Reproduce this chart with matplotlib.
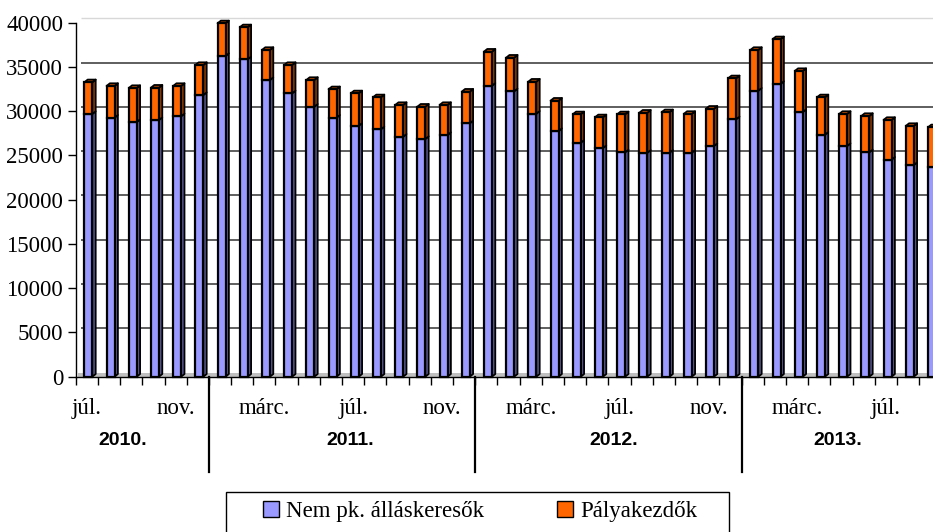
import numpy as np
import matplotlib
matplotlib.use("Agg")
import matplotlib.pyplot as plt
from matplotlib.patches import Patch, Rectangle
from matplotlib.collections import PolyCollection


# ==========================================
# DATA
# ==========================================
MONTH_NAMES = ['jan.', 'febr.', 'márc.', 'ápr.', 'máj.', 'jún.',
               'júl.', 'aug.', 'szept.', 'okt.', 'nov.', 'dec.']
YEARS = ['2010.', '2011.', '2012.', '2013.']
MONTHS_PER_YEAR = [6, 12, 12, 9]   # 2010 starts in July, 2013 ends in September

# Nem pályakezdő álláskeresők (blue) and Pályakezdők (orange), monthly
nem_pk = [29690, 29270, 28780, 29010, 29430, 31830,
          36240, 35870, 33530, 32020, 30510, 29270, 28360, 27960, 27120, 26860, 27310, 28630,
          32880, 32250, 29720, 27760, 26440, 25840, 25360, 25310, 25310, 25310, 26070, 29090,
          32320, 33080, 29910, 27350, 26070, 25360, 24520, 23920, 23660]
palyakezdo = [3580, 3580, 3840, 3650, 3420, 3390,
              3690, 3610, 3390, 3200, 3020, 3210, 3660, 3610, 3580, 3650, 3390, 3580,
              3850, 3800, 3620, 3430, 3210, 3470, 4290, 4520, 4570, 4380, 4210, 4630,
              4600, 5050, 4630, 4220, 3620, 4100, 4490, 4410, 4520]

LABELS = ['Nem pk. álláskeresők', 'Pályakezdők']

# ==========================================
# STYLE
# ==========================================
BLUE, BLUE_SIDE = '#9999FF', '#5C5C99'
ORANGE, ORANGE_SIDE, ORANGE_TOP = '#FF6600', '#993D00', '#CC5200'
SERIF = 'Liberation Serif'
SANS = 'Liberation Sans'
FS = 16.5

FRONT_L, FRONT_W = -0.11, 0.36   # front face of a column, in category units
DX, DY = 0.15, 300               # fake 3D depth (categories, values)
GRID_SHIFT = 500                 # back wall gridlines sit a bit higher


def side_and_top(x0, bottom, top, with_top):
    sides, tops = [], []
    for xl, b, t in zip(x0, bottom, top):
        xr = xl + FRONT_W
        sides.append([(xr, b), (xr + DX, b + DY), (xr + DX, t + DY), (xr, t)])
        if with_top:
            tops.append([(xl, t), (xl + DX, t + DY), (xr + DX, t + DY), (xr, t)])
    return sides, tops


def main():
    months = MONTH_NAMES[6:] + MONTH_NAMES * 2 + MONTH_NAMES[:9]
    n = len(nem_pk)
    x = np.arange(n)
    blue = np.array(nem_pk)
    total = blue + np.array(palyakezdo)

    fig = plt.figure(figsize=(9.33, 5.32), dpi=100)
    ax = fig.add_axes([75.7 / 933, (532 - 376.7) / 532, 865.8 / 933, 354 / 532])
    ax.set_xlim(-0.5, n - 0.5)
    ax.set_ylim(0, 40000)

    # back wall gridlines and floor
    for v in range(5000, 40000, 5000):
        ax.hlines(v + GRID_SHIFT, -0.25, n - 0.5, color='#333333', lw=1.1, zorder=1)
    ax.hlines(40000 + GRID_SHIFT, -0.25, n - 0.5, color='#d8d8d8', lw=1.0, zorder=1, clip_on=False)
    ax.fill_between([-0.4, n - 0.5], 0, 450, color='#c0c0c0', lw=0, zorder=1.5)

    # columns (not clipped, the tallest ones poke above the 40000 line)
    x0 = x + FRONT_L
    s_blue, _ = side_and_top(x0, np.zeros(n), blue, False)
    s_or, t_or = side_and_top(x0, blue, total, True)
    ax.add_collection(PolyCollection(s_blue, facecolors=BLUE_SIDE, edgecolors='black',
                                     lw=1.3, zorder=2.1, clip_on=False))
    ax.bar(x0, blue, width=FRONT_W, align='edge', color=BLUE, edgecolor='black',
           lw=1.6, zorder=2.2, clip_on=False)
    ax.add_collection(PolyCollection(s_or, facecolors=ORANGE_SIDE, edgecolors='black',
                                     lw=1.3, zorder=2.3, clip_on=False))
    ax.add_collection(PolyCollection(t_or, facecolors=ORANGE_TOP, edgecolors='black',
                                     lw=1.3, zorder=2.3, clip_on=False))
    ax.bar(x0, palyakezdo, bottom=blue, width=FRONT_W, align='edge', color=ORANGE,
           edgecolor='black', lw=1.6, zorder=2.4, clip_on=False)

    # axes
    for s in ['top', 'right']:
        ax.spines[s].set_visible(False)
    for s in ['left', 'bottom']:
        ax.spines[s].set_color('black')
        ax.spines[s].set_linewidth(1.0)
        ax.spines[s].set_zorder(3)
    ax.set_yticks(range(0, 40001, 5000))
    ax.set_yticklabels([str(v) for v in range(0, 40001, 5000)], fontfamily=SERIF, fontsize=FS)
    ax.tick_params(axis='y', length=6, width=1, pad=3, colors='black')
    ax.set_xticks(np.arange(-0.5, n, 1))
    ax.set_xticklabels([])
    ax.tick_params(axis='x', length=6, width=1, colors='black')

    # month labels every 4th month
    xt = ax.get_xaxis_transform()
    for i in range(0, n, 4):
        ax.text(i, -0.09, months[i], transform=xt, ha='center', va='center',
                fontfamily=SERIF, fontsize=FS)

    # year separators and year labels
    bounds = np.cumsum(MONTHS_PER_YEAR)[:-1] - 0.5
    for b in bounds:
        ax.plot([b, b], [0, -0.27], transform=xt, color='black', lw=1.6, clip_on=False)
    year_x = [1.63, 11.86, 23.73, 33.84]
    for yx, yr in zip(year_x, YEARS):
        ax.text(yx, -0.181, yr, transform=xt, ha='center', va='center',
                fontfamily=SANS, fontweight='bold', fontsize=14)

    # legend
    handles = [Patch(facecolor=BLUE, edgecolor='black', label=LABELS[0]),
               Patch(facecolor=ORANGE, edgecolor='black', label=LABELS[1])]
    fig.legend(handles=handles, loc='center', bbox_to_anchor=(480 / 933, 1 - 511.7 / 532),
               ncol=2, frameon=False, prop={'family': SERIF, 'size': FS},
               handlelength=0.7, handleheight=0.7, handletextpad=0.3, columnspacing=3.2)
    fig.add_artist(Rectangle((226 / 933, -8 / 532), 503 / 933, (540 - 491.7) / 532,
                             transform=fig.transFigure, fill=False, ec='black', lw=1.0))

    fig.savefig('out.png', dpi=100)
    plt.close(fig)


if __name__ == "__main__":
    main()
